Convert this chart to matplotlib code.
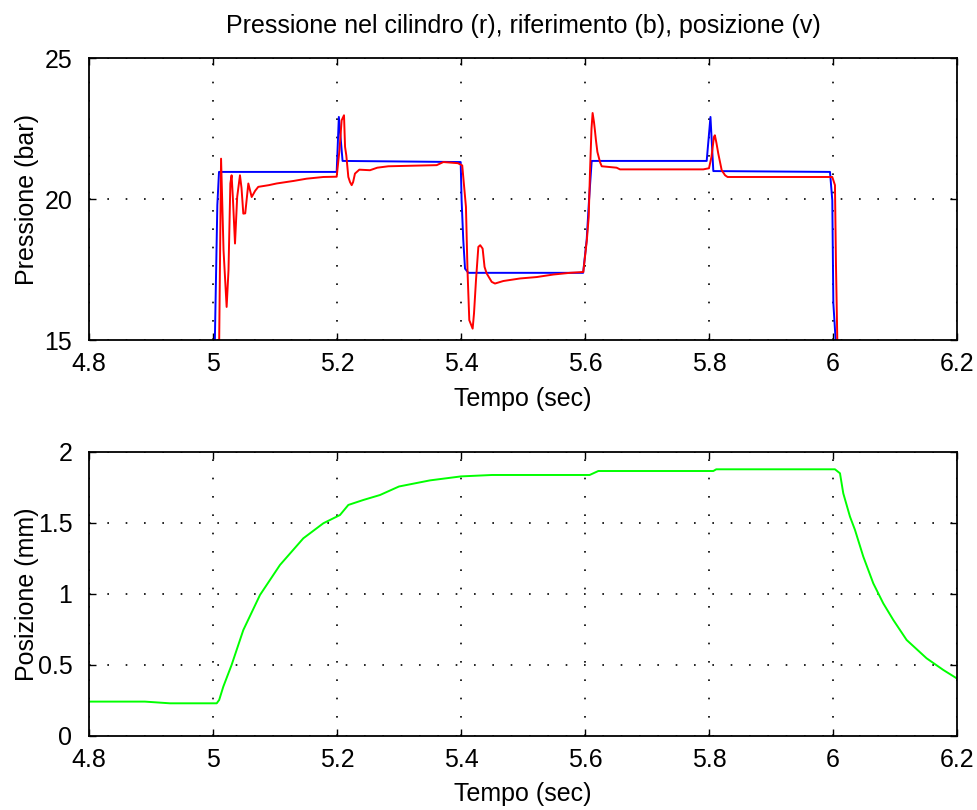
"""Two-panel MATLAB-style plot: cylinder pressure vs reference (top) and position (bottom)."""
import matplotlib
matplotlib.use("Agg")
import matplotlib.pyplot as plt
import numpy as np

# Reference pressure (blue)
t_ref = [4.80, 5.002, 5.003, 5.007, 5.0097, 5.1995, 5.203, 5.209, 5.3995,
         5.401, 5.4037, 5.4065, 5.4118, 5.597, 5.6027, 5.6065, 5.6108,
         5.7963, 5.8024, 5.807, 5.9952, 5.9989, 6.0006, 6.0043, 6.20]
p_ref = [10.0, 10.0, 15.0, 19.8, 20.97, 20.97, 22.92, 21.36, 21.32,
         19.96, 18.55, 17.54, 17.39, 17.39, 18.55, 19.96, 21.36,
         21.36, 22.92, 21.0, 20.97, 19.96, 16.31, 15.0, 10.0]

# Measured cylinder pressure (red)
t_cyl = [4.80, 5.008, 5.010, 5.013, 5.017, 5.022, 5.025, 5.028, 5.030, 5.032,
         5.0355, 5.039, 5.0435, 5.046, 5.0489, 5.052, 5.057, 5.0624, 5.068,
         5.073, 5.090, 5.1027, 5.130, 5.151, 5.178, 5.1995, 5.204, 5.2075,
         5.2113, 5.213, 5.215, 5.2183, 5.221, 5.2237, 5.226, 5.229, 5.236,
         5.2532, 5.265, 5.2828, 5.3608, 5.3715, 5.395, 5.402, 5.408, 5.4105,
         5.4134, 5.4188, 5.421, 5.4242, 5.428, 5.431, 5.4349, 5.438, 5.4414,
         5.4495, 5.4548, 5.4683, 5.4952, 5.522, 5.549, 5.5758, 5.5973, 5.603,
         5.606, 5.608, 5.6105, 5.6123, 5.6145, 5.616, 5.6177, 5.620, 5.6242,
         5.627, 5.651, 5.6565, 5.7908, 5.800, 5.804, 5.808, 5.8095, 5.812,
         5.815, 5.8205, 5.826, 5.830, 5.9989, 6.0032, 6.0048, 6.0086, 6.20]
p_cyl = [13.0, 13.0, 15.0, 21.44, 18.19, 16.18, 17.48, 20.56, 20.85, 20.08,
         18.43, 20.08, 20.85, 20.4, 19.49, 19.5, 20.56, 20.08, 20.3,
         20.44, 20.5, 20.56, 20.65, 20.73, 20.79, 20.8, 21.74, 22.80,
         22.98, 21.86, 21.56, 20.79, 20.61, 20.50, 20.61, 20.91, 21.05,
         21.03, 21.12, 21.17, 21.21, 21.32, 21.28, 21.2, 19.73, 17.48,
         15.71, 15.41, 15.95, 17.13, 18.31, 18.37, 18.25, 17.6, 17.37,
         17.07, 17.01, 17.10, 17.19, 17.24, 17.33, 17.39, 17.42, 18.55,
         19.37, 20.91, 22.5, 23.06, 22.74, 22.45, 22.09, 21.68, 21.32,
         21.17, 21.12, 21.06, 21.06, 21.10, 21.50, 22.21, 22.27, 22.0,
         21.62, 21.03, 20.85, 20.79, 20.79, 20.50, 17.72, 13.0, 13.0]

# Position (green)
t_pos = [4.80, 4.890, 4.9306, 5.006, 5.010, 5.0166, 5.030, 5.0489, 5.0758,
         5.108, 5.1457, 5.178, 5.2048, 5.2183, 5.2425, 5.2694, 5.30, 5.35,
         5.40, 5.45, 5.6075, 5.6215, 5.807, 5.8117, 6.0032, 6.0113, 6.0166,
         6.0274, 6.0355, 6.0489, 6.065, 6.0811, 6.0973, 6.1188, 6.151,
         6.1779, 6.1995]
x_pos = [0.242, 0.242, 0.230, 0.230, 0.254, 0.347, 0.50, 0.746, 0.993,
         1.204, 1.392, 1.498, 1.556, 1.627, 1.662, 1.697, 1.757, 1.800,
         1.828, 1.838, 1.838, 1.866, 1.866, 1.878, 1.878, 1.85, 1.709,
         1.545, 1.451, 1.263, 1.075, 0.934, 0.817, 0.676, 0.547,
         0.465, 0.406]

X_TICKS = [4.8, 5.0, 5.2, 5.4, 5.6, 5.8, 6.0, 6.2]
X_LABELS = ["4.8", "5", "5.2", "5.4", "5.6", "5.8", "6", "6.2"]

FS = 18
plt.rcParams["font.family"] = ["Liberation Sans", "DejaVu Sans"]
plt.rcParams["font.size"] = FS


def style(ax):
    ax.set_xlim(4.8, 6.2)
    ax.set_xticks(X_TICKS)
    ax.set_xticklabels(X_LABELS)
    ax.tick_params(direction="in", top=True, right=True, length=5,
                   width=1.0, labelsize=FS)
    ax.tick_params(axis="x", pad=8.5)
    ax.tick_params(axis="y", pad=12)
    ax.grid(True, color="black", linestyle=(0, (1, 10)), linewidth=1.2)
    for s in ax.spines.values():
        s.set_linewidth(1.3)


fig = plt.figure(figsize=(9.78, 8.10), dpi=100)
ax1 = fig.add_axes([0.091, 0.580, 0.8875, 0.348])
ax2 = fig.add_axes([0.091, 0.0914, 0.8875, 0.3506])

ax1.plot(t_ref, p_ref, color="#0000ff", linewidth=1.4)
ax1.plot(t_cyl, p_cyl, color="#ff0000", linewidth=1.4)
style(ax1)
ax1.set_ylim(15, 25)
ax1.set_yticks([15, 20, 25])
ax1.set_title("Pressione nel cilindro (r), riferimento (b), posizione (v)",
              fontsize=FS, pad=18)
ax1.set_xlabel("Tempo (sec)")
ax1.xaxis.set_label_coords(0.5, -0.167)
ax1.set_ylabel("Pressione (bar)")
ax1.yaxis.set_label_coords(-0.058, 0.5)

ax2.plot(t_pos, x_pos, color="#00ff00", linewidth=1.4)
style(ax2)
ax2.set_ylim(0, 2)
ax2.set_yticks([0, 0.5, 1, 1.5, 2])
ax2.set_yticklabels(["0", "0.5", "1", "1.5", "2"])
ax2.set_xlabel("Tempo (sec)")
ax2.xaxis.set_label_coords(0.5, -0.161)
ax2.set_ylabel("Posizione (mm)")
ax2.yaxis.set_label_coords(-0.058, 0.5)

fig.savefig("out.png", dpi=100)
